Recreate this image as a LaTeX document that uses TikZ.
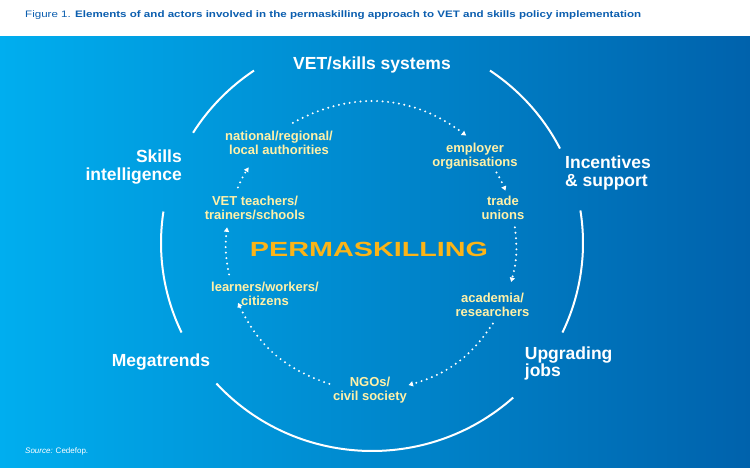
\documentclass[tikz,border=0pt]{standalone}
\usepackage{fontspec}
\setmainfont{Liberation Sans}
\usepackage{xcolor}
\usepackage{tikz}
\usetikzlibrary{arrows.meta}
\usetikzlibrary{calc}
\usetikzlibrary{positioning}

\definecolor{titleblue}{HTML}{0B5EAF}
\definecolor{bgleft}{HTML}{00AEEF}
\definecolor{bgright}{HTML}{0062AC}
\definecolor{actoryellow}{HTML}{FFF1A8}
\definecolor{permaorange}{HTML}{FBB417}

\begin{document}
\begin{tikzpicture} [x=1pt, y=-1pt,
            % ----- Node definitions ----- %
            elementnode/.style = {
                text = white,
                inner sep = 0pt,
                font = \fontsize{17.5}{17.5}\selectfont\bfseries
            },
            actornode/.style = {
                text = actoryellow,
                inner sep = 0pt,
                align = center,
                font = \fontsize{13}{14}\selectfont\bfseries
            },
            ringarc/.style = {
                white,
                line width = 2pt
            },
            flowline/.style = {
                white,
                line width = 2.2pt,
                line cap = round,
                dash pattern = on 0pt off 5.5pt,
                -{Triangle[length=4.5pt,width=5pt]}
            },
    ]

        % ----- Background ----- %
    \useasboundingbox (0,0) rectangle (750,468);
    \fill[white] (0,0) rectangle (750,37);
    \shade[left color=bgleft, right color=bgright] (0,37) rectangle (750,468);

    \node [anchor=base west, inner sep=0pt, text=titleblue] (title) at (25,17.7) {%
        \resizebox{616pt}{6.8pt}{\fontsize{9.3}{10}\selectfont Figure 1. \textbf{Elements of and actors involved in the permaskilling approach to VET and skills policy implementation}}};

        % ----- Outer ring ----- %
    \coordinate (ring) at (372,243);
    \draw[ringarc] ($(ring)+(212:211 and 208)$) arc[start angle=212, end angle=236, x radius=211, y radius=208];
    \draw[ringarc] ($(ring)+(304:211 and 208)$) arc[start angle=304, end angle=333, x radius=211, y radius=208];
    \draw[ringarc] ($(ring)+(-9:211 and 208)$) arc[start angle=-9, end angle=25.5, x radius=211, y radius=208];
    \draw[ringarc] ($(ring)+(48:211 and 208)$) arc[start angle=48, end angle=137.5, x radius=211, y radius=208];
    \draw[ringarc] ($(ring)+(154.5:211 and 208)$) arc[start angle=154.5, end angle=188.7, x radius=211, y radius=208];

    \node [elementnode, anchor=base] (systems) at (372,70) {VET/skills systems};
    \node [elementnode, anchor=base east, align=right] (intelligence) at (182,180) {Skills\\intelligence};
    \node [elementnode, anchor=base west, align=left] (incentives) at (565,186) {Incentives\\\& support};
    \node [elementnode, anchor=base west, align=left] (upgrading) at (524.7,376.7) {Upgrading\\jobs};
    \node [elementnode, anchor=base west] (megatrends) at (111.6,366) {Megatrends};

        % ----- Actors ----- %
    \node [text=permaorange, inner sep=0pt] (permaskilling) at (369,249.3) {%
        \resizebox{238pt}{14.3pt}{\fontsize{20}{20}\selectfont\bfseries PERMASKILLING}};

    \node [actornode] (authorities) at (279,143) {national/regional/\\local authorities};
    \node [actornode] (employers) at (475,156) {employer\\organisations};
    \node [actornode] (unions) at (503,208) {trade\\unions};
    \node [actornode] (academia) at (492.5,305) {academia/\\researchers};
    \node [actornode] (ngos) at (370,390) {NGOs/\\civil society};
    \node [actornode] (learners) at (265,294) {learners/workers/\\citizens};
    \node [actornode] (teachers) at (255,207.5) {VET teachers/\\trainers/schools};

        % ----- Flow round the actors ----- %
    \coordinate (hub) at (371,245);
    \coordinate (authorities-out) at ($(hub)+(237.4:145)$);
    \coordinate (employers-in) at ($(hub)+(311:145)$);
    \coordinate (employers-out) at ($(hub)+(330:145)$);
    \coordinate (unions-in) at ($(hub)+(338:145)$);
    \coordinate (unions-out) at ($(hub)+(353:145)$);
    \coordinate (academia-in) at ($(hub)+(14.8:145)$);
    \coordinate (academia-out) at ($(hub)+(32.8:145)$);
    \coordinate (ngos-in) at ($(hub)+(75:145)$);
    \coordinate (ngos-out) at ($(hub)+(106.7:145)$);
    \coordinate (learners-in) at ($(hub)+(156.5:145)$);
    \coordinate (learners-out) at ($(hub)+(168.3:145)$);
    \coordinate (teachers-in) at ($(hub)+(187:145)$);
    \coordinate (teachers-out) at ($(hub)+(203.4:145)$);
    \coordinate (authorities-in) at ($(hub)+(212.4:145)$);

    \draw[flowline] (authorities-out) to[bend left=33] (employers-in);
    \draw[flowline] (employers-out) to[bend left=4] (unions-in);
    \draw[flowline] (unions-out) to[bend left=11] (academia-in);
    \draw[flowline] (academia-out) to[bend left=20] (ngos-in);
    \draw[flowline] (ngos-out) to[bend left=23] (learners-in);
    \draw[flowline] (learners-out) to[bend left=9] (teachers-in);
    \draw[flowline] (teachers-out) to[bend left=4.5] (authorities-in);

    \node [anchor=base west, inner sep=0pt, text=white, font=\fontsize{8}{8}\selectfont] (source) at (25,453.5) {\textit{Source:} Cedefop.};

\end{tikzpicture}
\end{document}
